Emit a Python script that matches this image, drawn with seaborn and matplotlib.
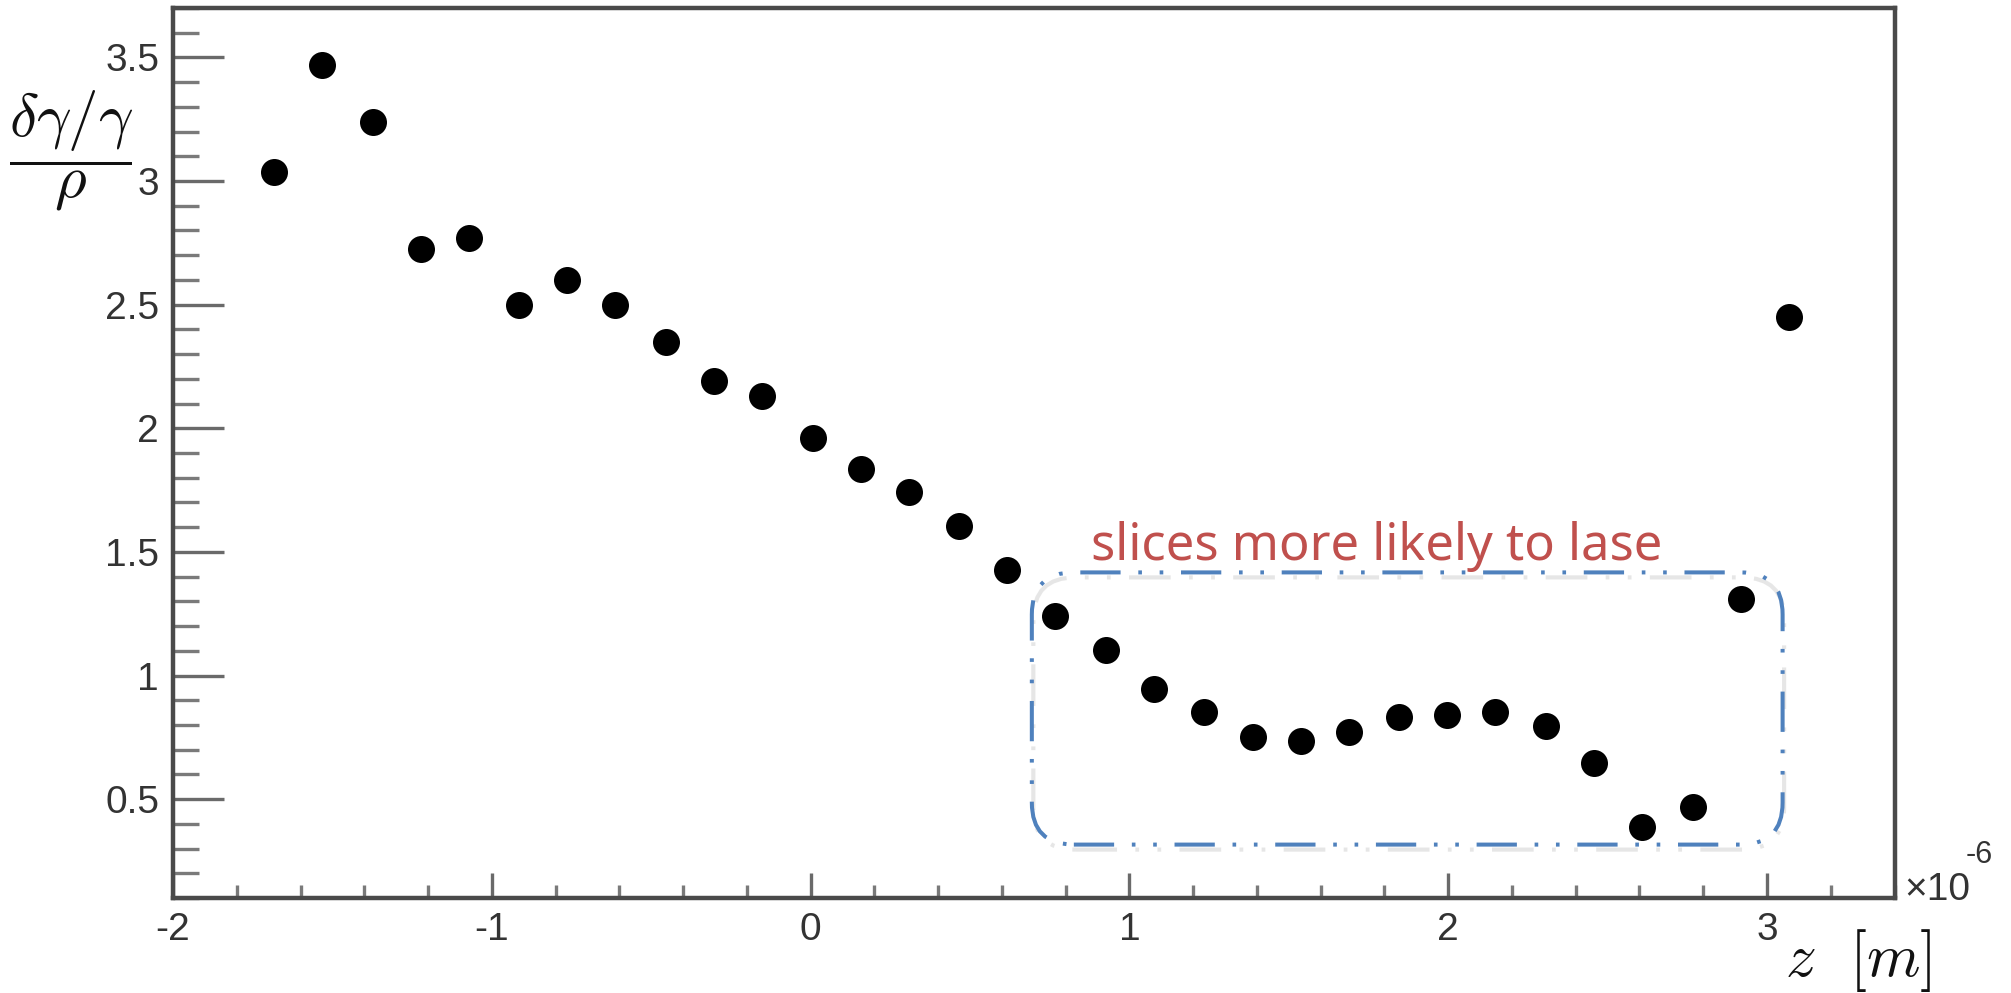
import matplotlib
matplotlib.use("Agg")
import matplotlib.pyplot as plt
import pandas as pd
import seaborn as sns
from matplotlib.patches import FancyBboxPatch
from matplotlib.ticker import MultipleLocator, FuncFormatter
from matplotlib.transforms import IdentityTransform

# slice centre along the bunch, in units of 1e-6 m
z_slice = [-1.683, -1.534, -1.374, -1.223, -1.072, -0.914, -0.763, -0.613,
           -0.454, -0.303, -0.152, 0.007, 0.157, 0.308, 0.467, 0.617,
           0.768, 0.927, 1.077, 1.234, 1.387, 1.537, 1.688, 1.847,
           1.997, 2.148, 2.307, 2.457, 2.608, 2.767, 2.918, 3.068]

# relative energy spread of each slice divided by the FEL parameter rho
spread_over_rho = [3.035, 3.469, 3.240, 2.725, 2.771, 2.498, 2.601, 2.498,
                   2.350, 2.191, 2.131, 1.962, 1.835, 1.743, 1.606, 1.425,
                   1.242, 1.104, 0.945, 0.853, 0.750, 0.737, 0.772, 0.831,
                   0.842, 0.853, 0.797, 0.648, 0.386, 0.467, 1.311, 2.451]

# region of the bunch highlighted as lasing candidates (data units)
region_z = [0.694, 3.049]
region_ratio = [0.316, 1.417]
region_label = "slices more likely to lase"

x_ticks = [-2, -1, 0, 1, 2, 3]
y_ticks = [0.5, 1, 1.5, 2, 2.5, 3, 3.5]

df = pd.DataFrame({"z": z_slice, "ratio": spread_over_rho})

sns.set_style("ticks")
plt.rcParams["font.family"] = ["Liberation Sans", "DejaVu Sans"]
plt.rcParams["mathtext.fontset"] = "cm"
plt.rcParams["axes.unicode_minus"] = False

W, H = 2011, 993
fig = plt.figure(figsize=(W / 100, H / 100), dpi=100)
ax = fig.add_axes([173 / W, 1 - 898 / H, (1894.5 - 173) / W, 890 / H])

sns.scatterplot(data=df, x="z", y="ratio", ax=ax, color="black", s=378,
                linewidth=0, legend=False, zorder=5)

ax.set_xlim(-2, 3.4)
ax.set_ylim(0.1, 3.7)
ax.set_xlabel("")
ax.set_ylabel("")

ax.set_xticks(x_ticks)
ax.set_yticks(y_ticks)
ax.xaxis.set_minor_locator(MultipleLocator(0.2))
ax.yaxis.set_minor_locator(MultipleLocator(0.1))
fmt = FuncFormatter(lambda v, _: f"{v:g}")
ax.xaxis.set_major_formatter(fmt)
ax.yaxis.set_major_formatter(fmt)

spine_col = "#4a4a4a"
for side in ["left", "bottom", "top", "right"]:
    ax.spines[side].set_visible(True)
    ax.spines[side].set_color(spine_col)
    ax.spines[side].set_linewidth(3.2)

tick_font = 28
ax.tick_params(axis="y", which="major", direction="in", length=36.5, width=2.4,
               color="#6a6a6a", labelsize=tick_font, labelcolor="#333333", pad=10)
ax.tick_params(axis="y", which="minor", direction="in", length=18.5, width=2.4,
               color="#7a7a7a")
ax.tick_params(axis="x", which="major", direction="in", length=18, width=2.4,
               color="#6a6a6a", labelsize=tick_font, labelcolor="#333333", pad=10)
ax.tick_params(axis="x", which="minor", direction="in", length=9.5, width=2.4,
               color="#7a7a7a")

# axis titles
fig.text(71 / W, 1 - 151 / H, r"$\dfrac{\delta\gamma/\gamma}{\rho}$",
         ha="center", va="center", fontsize=44, color="#111111")
fig.text(1858 / W, 1 - 960 / H, r"$z\ \ [m]$", ha="center", va="center",
         fontsize=44, color="#111111")

# exponent of the z axis
fig.text(1904 / W, 1 - 900 / H, "×10", ha="left", va="baseline",
         fontsize=tick_font, color="#333333")
fig.text(1966 / W, 1 - 863 / H, "-6", ha="left", va="baseline",
         fontsize=22, color="#333333")

# highlighted region: rounded dash-dot-dot box with a soft drop shadow
(px0, py0) = ax.transData.transform((region_z[0], region_ratio[0]))
(px1, py1) = ax.transData.transform((region_z[1], region_ratio[1]))
dash = (0, (10, 4.4, 0.9, 4.4, 0.9, 4.4))
for dx, dy, col, alpha, lw, zo in [(1.5, -5, "#cfcfcf", 0.5, 3.0, 2.9),
                                   (0, 0, "#4f81bd", 1.0, 2.9, 3.1)]:
    box = FancyBboxPatch((px0 + dx, py0 + dy), px1 - px0, py1 - py0,
                         boxstyle="round,pad=0,rounding_size=42",
                         transform=IdentityTransform(), facecolor="none",
                         edgecolor=col, alpha=alpha, linewidth=lw,
                         linestyle=dash, capstyle="butt", zorder=zo)
    fig.patches.append(box)
    box.set_figure(fig)

ax.text(0.88, 1.469, region_label, ha="left", va="baseline", fontsize=36.5,
        color="#c0504d", family=["Noto Sans", "DejaVu Sans"], zorder=6)

fig.savefig("out.png", dpi=100, facecolor="white")
